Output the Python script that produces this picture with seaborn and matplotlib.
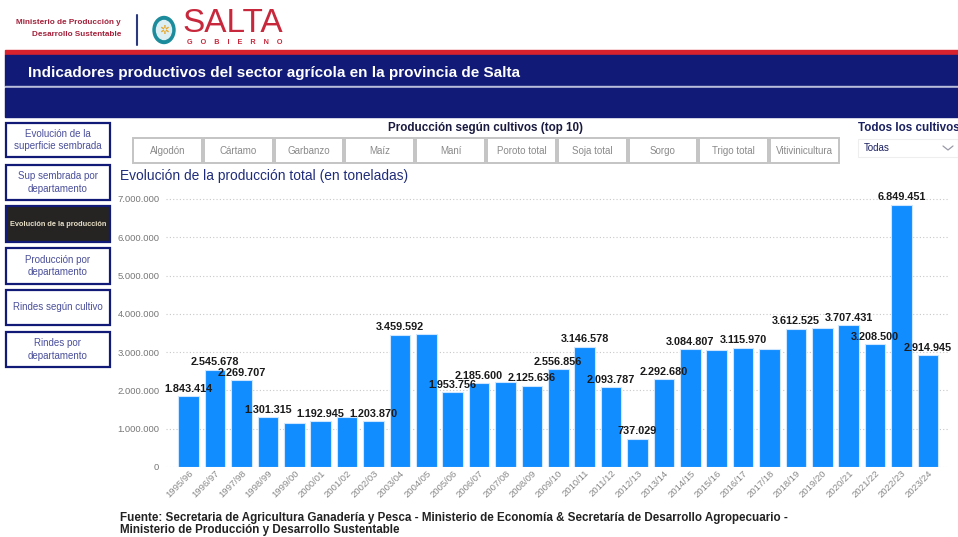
import pandas as pd
import matplotlib.pyplot as plt
import seaborn as sns
from matplotlib.patches import Rectangle, Ellipse
from matplotlib.lines import Line2D

# Datos: producción total (toneladas) por campaña
seasons = ['1995/96', '1996/97', '1997/98', '1998/99', '1999/00', '2000/01', '2001/02',
           '2002/03', '2003/04', '2004/05', '2005/06', '2006/07', '2007/08', '2008/09',
           '2009/10', '2010/11', '2011/12', '2012/13', '2013/14', '2014/15', '2015/16',
           '2016/17', '2017/18', '2018/19', '2019/20', '2020/21', '2021/22', '2022/23',
           '2023/24']
production = [1843414, 2545678, 2269707, 1301315, 1160000, 1192945, 1300000,
              1203870, 3459592, 3480000, 1953756, 2185600, 2230000, 2125636,
              2556856, 3146578, 2093787, 737029, 2292680, 3084807, 3050000,
              3115970, 3080000, 3612525, 3630000, 3707431, 3208500, 6849451,
              2914945]
# etiquetas visibles (Power BI oculta las que se superponen)
shown = [True, True, True, True, False, True, False,
         True, True, False, True, True, False, True,
         True, True, True, True, True, True, False,
         True, False, True, False, True, True, True,
         True]
yticks = [0, 1000000, 2000000, 3000000, 4000000, 5000000, 6000000, 7000000]

crops = ['Algodón', 'Cártamo', 'Garbanzo', 'Maíz', 'Maní', 'Poroto total',
         'Soja total', 'Sorgo', 'Trigo total', 'Vitivinicultura']
nav_buttons = ['Evolución de la\nsuperficie sembrada', 'Sup sembrada por\ndepartamento',
               'Evolución de la producción', 'Producción por\ndepartamento',
               'Rindes según cultivo', 'Rindes por\ndepartamento']

df = pd.DataFrame({'Campaña': seasons, 'Producción': production})

W, H = 958, 537
NAVY = '#111A76'
RED = '#D8232F'
BLUE = '#118DFF'


def fmt(v):
    return f'{v:,.0f}'.replace(',', '.')


sns.set_theme(style='white')
plt.rcParams['font.family'] = ['Liberation Sans', 'DejaVu Sans']

fig = plt.figure(figsize=(W / 100, H / 100), dpi=100)
fig.patch.set_facecolor('white')

# capa de fondo en coordenadas de píxel
bg = fig.add_axes([0, 0, 1, 1])
bg.set_xlim(0, W)
bg.set_ylim(H, 0)
bg.axis('off')

# encabezado
bg.text(121, 22, 'Ministerio de Producción y', ha='right', va='center',
        fontsize=5.9, fontweight='bold', color='#A3213A')
bg.text(121, 34, 'Desarrollo Sustentable', ha='right', va='center',
        fontsize=5.9, fontweight='bold', color='#A3213A')
bg.add_line(Line2D([137, 137], [15, 45], color='#2B3A80', lw=1.5))
bg.add_patch(Ellipse((164, 30), 22, 27, color='#1C8C9C'))
bg.add_patch(Ellipse((164, 30), 15, 19, color='#DDEFF3'))
bg.text(164, 30.5, '✲', ha='center', va='center', fontsize=8.5, color='#E9A72A',
        family=['DejaVu Sans'])
bg.text(182, 24, 'SALTA', ha='left', va='center', fontsize=24, color='#C8283C')
bg.text(187, 43, 'G    O    B    I    E    R    N    O', ha='left', va='center', fontsize=5.2,
        fontweight='bold', color='#C8283C')

bg.add_patch(Rectangle((5, 50), W - 5, 5, color=RED))
bg.add_patch(Rectangle((5, 55), W - 5, 31, color=NAVY))
bg.add_patch(Rectangle((5, 86), W - 5, 2, color='#B9BEDC'))
bg.add_patch(Rectangle((5, 88), W - 5, 29, color=NAVY))
bg.text(28, 73, 'Indicadores productivos del sector agrícola en la provincia de Salta',
        ha='left', va='center', fontsize=11, fontweight='bold', color='white')

# botones de navegación
btn_y = [(123, 157), (165, 200), (206, 242), (248, 284), (290, 325), (332, 367)]
for label, (y0, y1) in zip(nav_buttons, btn_y):
    active = label == 'Evolución de la producción'
    bg.add_patch(Rectangle((6, y0), 104, y1 - y0, facecolor='#252423' if active else 'white',
                           edgecolor=NAVY, lw=1.6))
    bg.text(58, (y0 + y1) / 2, label, ha='center', va='center', linespacing=1.3,
            fontsize=5.3 if active else 7, fontweight='bold' if active else 'normal',
            color='#E8E0C8' if active else '#4A4F9A')

# segmentador de cultivos
bg.text(486, 128, 'Producción según cultivos (top 10)', ha='center', va='center',
        fontsize=8.4, fontweight='bold', color='#1A1A40')
bw = (840 - 132) / len(crops)
for i, c in enumerate(crops):
    x0 = 132 + i * bw
    bg.add_patch(Rectangle((x0 + 1, 138), bw - 2, 25, facecolor='white',
                           edgecolor='#C4C4C4', lw=1.4))
    bg.text(x0 + bw / 2, 151, c, ha='center', va='center', fontsize=7, color='#8A8A8A')

bg.text(858, 128, 'Todos los cultivos', ha='left', va='center', fontsize=8.4,
        fontweight='bold', color='#1A2060')
bg.add_patch(Rectangle((858, 139), 100, 18, facecolor='white', edgecolor='#EEEEEE', lw=0.8))
bg.text(864, 148, 'Todas', ha='left', va='center', fontsize=7, color='#1A2060')
bg.add_line(Line2D([943, 948, 953], [146, 150, 146], color='#9A9AA8', lw=0.9))

bg.text(120, 176, 'Evolución de la producción total (en toneladas)', ha='left',
        va='center', fontsize=9.9, color='#1F2C7A')

# fuente
bg.text(120, 518, 'Fuente: Secretaria de Agricultura Ganadería y Pesca - Ministerio de Economía '
        '& Secretaría de Desarrollo Agropecuario -', ha='left', va='center', fontsize=8.4,
        fontweight='bold', color='#222222')
bg.text(120, 530, 'Ministerio de Producción y Desarrollo Sustentable', ha='left',
        va='center', fontsize=8.4, fontweight='bold', color='#222222')

# gráfico de barras
step = 26.4
x_first = 188.7
left_px = x_first - 0.85 * step
right_px = x_first + 28.8 * step
zero_px = 467
per_m = 38.29
ymax = 7300000
top_px = zero_px - ymax / 1e6 * per_m
ax = fig.add_axes([left_px / W, 1 - zero_px / H, (right_px - left_px) / W,
                   (zero_px - top_px) / H])
ax.set_facecolor('none')

sns.barplot(data=df, x='Campaña', y='Producción', color=BLUE, saturation=1,
            width=0.78, edgecolor='#CFE6FF', linewidth=0.8, ax=ax, zorder=3)
ax.set_xlim(-0.85, 28.8)
ax.set_ylim(0, ymax)
ax.set_yticks(yticks)
ax.set_yticklabels([fmt(v) for v in yticks], fontsize=6.8, color='#777777')
ax.yaxis.grid(True, linestyle=(0, (1, 2)), color='#C8C8C8', lw=0.8, zorder=0)
ax.tick_params(axis='y', length=0, pad=5)
ax.tick_params(axis='x', length=0, pad=1)
for lbl in ax.get_xticklabels():
    lbl.set_rotation(45)
    lbl.set_ha('right')
    lbl.set_rotation_mode('anchor')
    lbl.set_fontsize(6.8)
    lbl.set_color('#888888')
ax.set_xlabel('')
ax.set_ylabel('')
sns.despine(ax=ax, left=True, bottom=True)

for i, (v, s) in enumerate(zip(production, shown)):
    if s:
        ax.text(i, v + 60000, fmt(v), ha='center', va='bottom', fontsize=7.8,
                fontweight='bold', color='#1A1A1A', zorder=5)

fig.savefig('out.png', dpi=100, facecolor='white')
